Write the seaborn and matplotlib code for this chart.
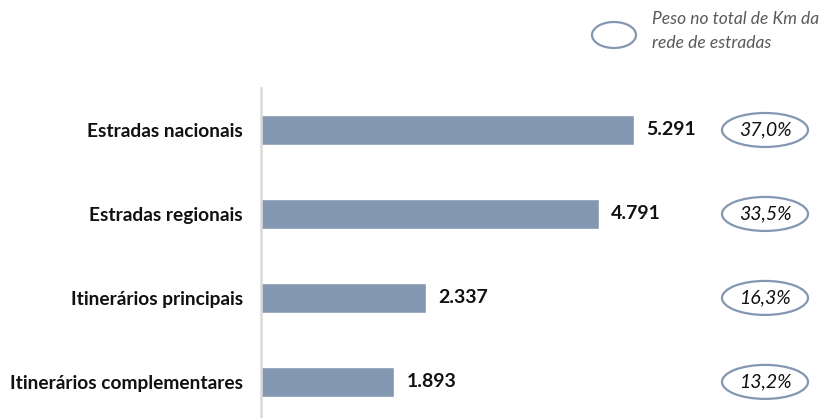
import matplotlib
matplotlib.use("Agg")
import matplotlib.pyplot as plt
from matplotlib.patches import Ellipse
import matplotlib.transforms as mtransforms
import seaborn as sns
import pandas as pd

categories = ["Estradas nacionais", "Estradas regionais", "Itinerários principais", "Itinerários complementares"]
km_values = [5291, 4791, 2337, 1893]
value_labels = ["5.291", "4.791", "2.337", "1.893"]
share_labels = ["37,0%", "33,5%", "16,3%", "13,2%"]
legend_text = "Peso no total de Km da\nrede de estradas"

sns.set_theme(style="white")
plt.rcParams['font.family'] = ['Lato', 'DejaVu Sans']

W, H = 824, 418
fig = plt.figure(figsize=(W / 100, H / 100), dpi=100)
ax = fig.add_axes([261 / W, 0, 560 / W, 330 / H])

df = pd.DataFrame({"cat": categories, "km": km_values})
bar_color = "#8497b0"
sns.barplot(data=df, y="cat", x="km", orient="h", color=bar_color, width=0.36,
            saturation=1, ax=ax)

ax.set_xlim(0, 560 / 0.0705)
ax.set_ylim(3.43, -0.5)
ax.set_xlabel("")
ax.set_ylabel("")
ax.set_xticks([])
for s in ["top", "right", "bottom"]:
    ax.spines[s].set_visible(False)
ax.spines["left"].set_color("#d9d9d9")
ax.spines["left"].set_linewidth(1.8)
ax.tick_params(axis="y", length=0, pad=13)
for t in ax.get_yticklabels():
    t.set_fontweight("bold")
    t.set_fontsize(13.8)
    t.set_color("#111111")

for i, (v, lab) in enumerate(zip(km_values, value_labels)):
    ax.annotate(lab, xy=(v, i), xytext=(9, 0), textcoords="offset points",
                va="center", ha="left", fontsize=14, fontweight="bold", color="#111111")

blend = mtransforms.blended_transform_factory(fig.transFigure, ax.transData)
edge = "#8496b0"
for i, lab in enumerate(share_labels):
    e = Ellipse((765 / W, i), 86 / W, 34 / 84, transform=blend, facecolor="white",
                edgecolor=edge, linewidth=1.6, clip_on=False)
    ax.add_artist(e)
    ax.text(765 / W, i, lab, transform=blend, ha="center", va="center",
            fontsize=14, fontstyle="italic", color="#111111")

le = Ellipse((614 / W, 1 - 35 / H), 44 / W, 26 / H, transform=fig.transFigure,
             facecolor="white", edgecolor=edge, linewidth=1.6)
fig.add_artist(le)
fig.text(652 / W, 1 - 31 / H, legend_text, ha="left", va="center", fontsize=12.5,
         fontstyle="italic", color="#595959", linespacing=1.55)

fig.savefig("out.png", dpi=100)
